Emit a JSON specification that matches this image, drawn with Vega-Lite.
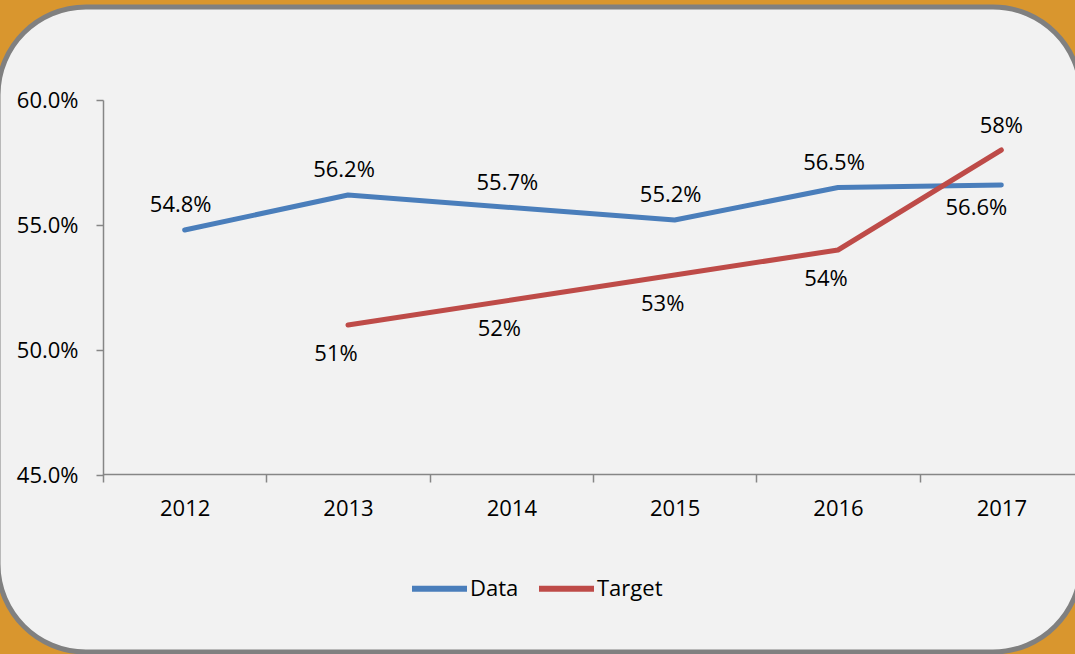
{
  "$schema": "https://vega.github.io/schema/vega-lite/v6.json",
  "width": 1083,
  "height": 645,
  "autosize": {"type": "none"},
  "padding": {"left": -2, "top": 7, "right": -6, "bottom": 2},
  "background": "#D9962E",
  "config": {
    "view": {"fill": "#F2F2F2", "stroke": "#808080", "strokeWidth": 5, "cornerRadius": 88},
    "font": "Open Sans",
    "text": {"font": "Open Sans", "fontSize": 22, "color": "#000000"}
  },
  "data": {
    "values": [
      {"year": "2012", "series": "Data", "value": 0.548},
      {"year": "2013", "series": "Data", "value": 0.562},
      {"year": "2014", "series": "Data", "value": 0.557},
      {"year": "2015", "series": "Data", "value": 0.552},
      {"year": "2016", "series": "Data", "value": 0.565},
      {"year": "2017", "series": "Data", "value": 0.566},
      {"year": "2013", "series": "Target", "value": 0.51},
      {"year": "2014", "series": "Target", "value": 0.52},
      {"year": "2015", "series": "Target", "value": 0.53},
      {"year": "2016", "series": "Target", "value": 0.54},
      {"year": "2017", "series": "Target", "value": 0.58}
    ]
  },
  "encoding": {
    "x": {
      "field": "year",
      "type": "ordinal",
      "bandPosition": 0.5,
      "scale": {"type": "band", "paddingInner": 0, "paddingOuter": 0, "range": [105, 1085]},
      "axis": {
        "title": null,
        "orient": "bottom",
        "offset": -178,
        "tickBand": "extent",
        "tickSize": 8,
        "labelPadding": 16,
        "labelFontSize": 22,
        "labelFont": "Open Sans",
        "labelColor": "#000000",
        "labelAngle": 0,
        "domainColor": "#868686",
        "tickColor": "#868686",
        "domainWidth": 1.5,
        "tickWidth": 1.5,
        "grid": false
      }
    },
    "y": {
      "field": "value",
      "type": "quantitative",
      "scale": {"domain": [0.45, 0.6], "range": [468, 93], "nice": false, "zero": false},
      "axis": {
        "title": null,
        "orient": "left",
        "offset": -105,
        "values": [0.45, 0.5, 0.55, 0.6],
        "format": ".1%",
        "tickSize": 7,
        "labelPadding": 18,
        "labelFontSize": 22,
        "labelFont": "Open Sans",
        "labelColor": "#000000",
        "domainColor": "#868686",
        "tickColor": "#868686",
        "domainWidth": 1.5,
        "tickWidth": 1.5,
        "grid": false
      }
    }
  },
  "layer": [
    {
      "mark": {"type": "line", "strokeWidth": 5, "strokeCap": "round", "strokeJoin": "round"},
      "encoding": {
        "color": {
          "field": "series",
          "type": "nominal",
          "scale": {"domain": ["Data", "Target"], "range": ["#4A7EBB", "#BE4B48"]},
          "legend": {
            "orient": "none",
            "legendX": 411,
            "legendY": 551,
            "direction": "horizontal",
            "title": null,
            "symbolType": "stroke",
            "symbolSize": 3025,
            "symbolStrokeWidth": 6,
            "labelFontSize": 22,
            "labelFont": "Open Sans",
            "labelColor": "#000000",
            "labelOffset": 0,
            "columnPadding": 8
          }
        }
      }
    },
    {
      "transform": [{"filter": "datum.series == 'Data' && datum.year != '2017'"}],
      "mark": {"type": "text", "dx": -4, "dy": -25},
      "encoding": {"text": {"field": "value", "format": ".1%"}}
    },
    {
      "transform": [{"filter": "datum.series == 'Data' && datum.year == '2017'"}],
      "mark": {"type": "text", "dx": -25, "dy": 23},
      "encoding": {"text": {"field": "value", "format": ".1%"}}
    },
    {
      "transform": [{"filter": "datum.series == 'Target' && datum.year != '2017'"}],
      "mark": {"type": "text", "dx": -12, "dy": 29},
      "encoding": {"text": {"field": "value", "format": ".0%"}}
    },
    {
      "transform": [{"filter": "datum.series == 'Target' && datum.year == '2017'"}],
      "mark": {"type": "text", "dx": 0, "dy": -24},
      "encoding": {"text": {"field": "value", "format": ".0%"}}
    }
  ]
}
